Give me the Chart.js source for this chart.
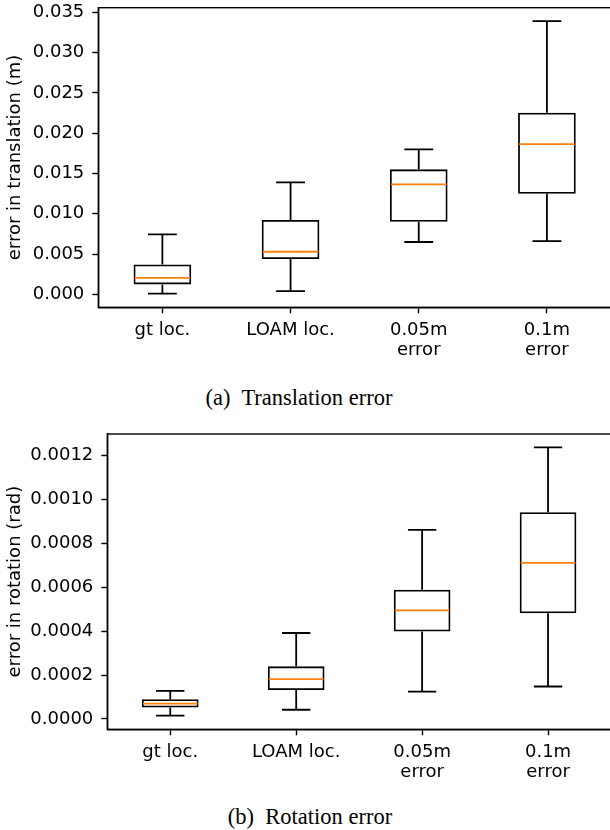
<!DOCTYPE html>
<html>
<head>
<meta charset="utf-8">
<script src="https://cdn.jsdelivr.net/npm/chart.js@4"></script>
<style>
body{margin:0;background:#fff;overflow:hidden;width:610px;height:830px;position:relative}
canvas{position:absolute;left:0}
#c1{top:0}
#c2{top:420px}
.cap{position:absolute;font-family:"Liberation Serif","Times New Roman",serif;font-size:22.5px;line-height:22px;white-space:nowrap;transform:translateX(-50%);color:#000}
</style>
</head>
<body>
<canvas id="c1" width="612" height="380"></canvas>
<canvas id="c2" width="612" height="380"></canvas>
<div class="cap" style="left:299px;top:387px">(a)&nbsp; Translation error</div>
<div class="cap" style="left:310px;top:806px">(b)&nbsp; Rotation error</div>
<script>
const categories = [["gt loc."], ["LOAM loc."], ["0.05m", "error"], ["0.1m", "error"]];

// translation error (m)
const transMin = [0.0001, 0.0004, 0.0065, 0.0066];
const transQ1  = [0.00124, 0.00438, 0.0090, 0.01248];
const transMed = [0.00206, 0.00529, 0.01365, 0.01865];
const transQ3  = [0.00372, 0.00922, 0.01551, 0.02253];
const transMax = [0.00744, 0.0139, 0.0180, 0.0339];

// rotation error (rad)
const rotMin = [0.000015, 0.000042, 0.000125, 0.000148];
const rotQ1  = [0.000052, 0.000132, 0.000399, 0.000482];
const rotMed = [0.000070, 0.000182, 0.000495, 0.000712];
const rotQ3  = [0.000090, 0.000240, 0.000589, 0.000942];
const rotMax = [0.000128, 0.000392, 0.000862, 0.001238];

const tickFont = {family: "DejaVu Sans", size: 18, lineHeight: 1.12};
const BLACK = "#000";
const MEDIAN = "#ff7f0e";

function makeBoxChart(id, st, yOpts) {
    // the box itself is a floating bar q1..q3, whiskers and median drawn by the plugin
    const boxParts = {
        id: "boxParts",
        afterDatasetsDraw(chart) {
            const ctx = chart.ctx;
            const y = chart.scales.y;
            const meta = chart.getDatasetMeta(0);
            ctx.save();
            ctx.lineWidth = 1.8;
            meta.data.forEach(function(bar, i) {
                const cx = bar.x;
                const half = bar.width / 2;
                const cap = bar.width / 4;
                const yMin = y.getPixelForValue(st.min[i]);
                const yMax = y.getPixelForValue(st.max[i]);
                ctx.strokeStyle = BLACK;
                ctx.beginPath();
                ctx.moveTo(cx, y.getPixelForValue(st.q3[i]));
                ctx.lineTo(cx, yMax);
                ctx.moveTo(cx, y.getPixelForValue(st.q1[i]));
                ctx.lineTo(cx, yMin);
                ctx.moveTo(cx - cap, yMax);
                ctx.lineTo(cx + cap, yMax);
                ctx.moveTo(cx - cap, yMin);
                ctx.lineTo(cx + cap, yMin);
                ctx.stroke();
                const ym = y.getPixelForValue(st.med[i]);
                ctx.strokeStyle = MEDIAN;
                ctx.beginPath();
                ctx.moveTo(cx - half + 1, ym);
                ctx.lineTo(cx + half - 1, ym);
                ctx.stroke();
            });
            ctx.restore();
        },
        afterDraw(chart) {
            const a = chart.chartArea;
            const ctx = chart.ctx;
            ctx.save();
            ctx.strokeStyle = BLACK;
            ctx.lineWidth = 1.4;
            ctx.strokeRect(a.left, a.top, a.right - a.left, a.bottom - a.top);
            ctx.restore();
        }
    };

    return new Chart(document.getElementById(id).getContext("2d"), {
        type: "bar",
        data: {
            labels: categories,
            datasets: [{
                data: st.q1.map((v, i) => [v, st.q3[i]]),
                backgroundColor: "rgba(255,255,255,0)",
                borderColor: BLACK,
                borderWidth: 1.8,
                borderSkipped: false,
                barPercentage: 0.45,
                categoryPercentage: 1.0
            }]
        },
        options: {
            responsive: false,
            animation: false,
            devicePixelRatio: 1,
            layout: {padding: {top: yOpts.top, left: 0, right: 1, bottom: 0}},
            plugins: {legend: {display: false}, tooltip: {enabled: false}},
            scales: {
                x: {
                    offset: true,
                    grid: {offset: false, drawOnChartArea: false, drawTicks: true, tickLength: 6, tickWidth: 1.4, tickColor: BLACK},
                    border: {display: true, color: BLACK, width: 1.4},
                    ticks: {color: BLACK, font: tickFont, padding: 7, maxRotation: 0, autoSkip: false},
                    afterFit(s) { s.height = 380 - yOpts.bottom; s.paddingLeft = 0; s.paddingRight = 0; }
                },
                y: {
                    min: yOpts.min,
                    max: yOpts.max,
                    grid: {drawOnChartArea: false, drawTicks: true, tickLength: 6, tickWidth: 1.4, tickColor: BLACK},
                    border: {display: true, color: BLACK, width: 1.4},
                    ticks: {
                        stepSize: yOpts.step,
                        includeBounds: false,
                        color: BLACK,
                        font: tickFont,
                        padding: 8,
                        callback: v => v.toFixed(yOpts.digits)
                    },
                    title: {display: true, text: yOpts.title, color: BLACK, font: {family: "DejaVu Sans", size: 18, lineHeight: 1.2}, padding: {top: 5, bottom: 0}},
                    afterFit(s) { s.width = yOpts.left; s.paddingTop = 0; s.paddingBottom = 0; }
                }
            }
        },
        plugins: [boxParts]
    });
}

makeBoxChart("c1",
    {min: transMin, q1: transQ1, med: transMed, q3: transQ3, max: transMax},
    {min: -0.0016, max: 0.03556, step: 0.005, digits: 3, title: "error in translation (m)", top: 7.7, bottom: 307.3, left: 98.3});

makeBoxChart("c2",
    {min: rotMin, q1: rotQ1, med: rotMed, q3: rotQ3, max: rotMax},
    {min: -0.000047, max: 0.001299, step: 0.0002, digits: 4, title: "error in rotation (rad)", top: 14, bottom: 309.3, left: 107.3});
</script>
</body>
</html>
